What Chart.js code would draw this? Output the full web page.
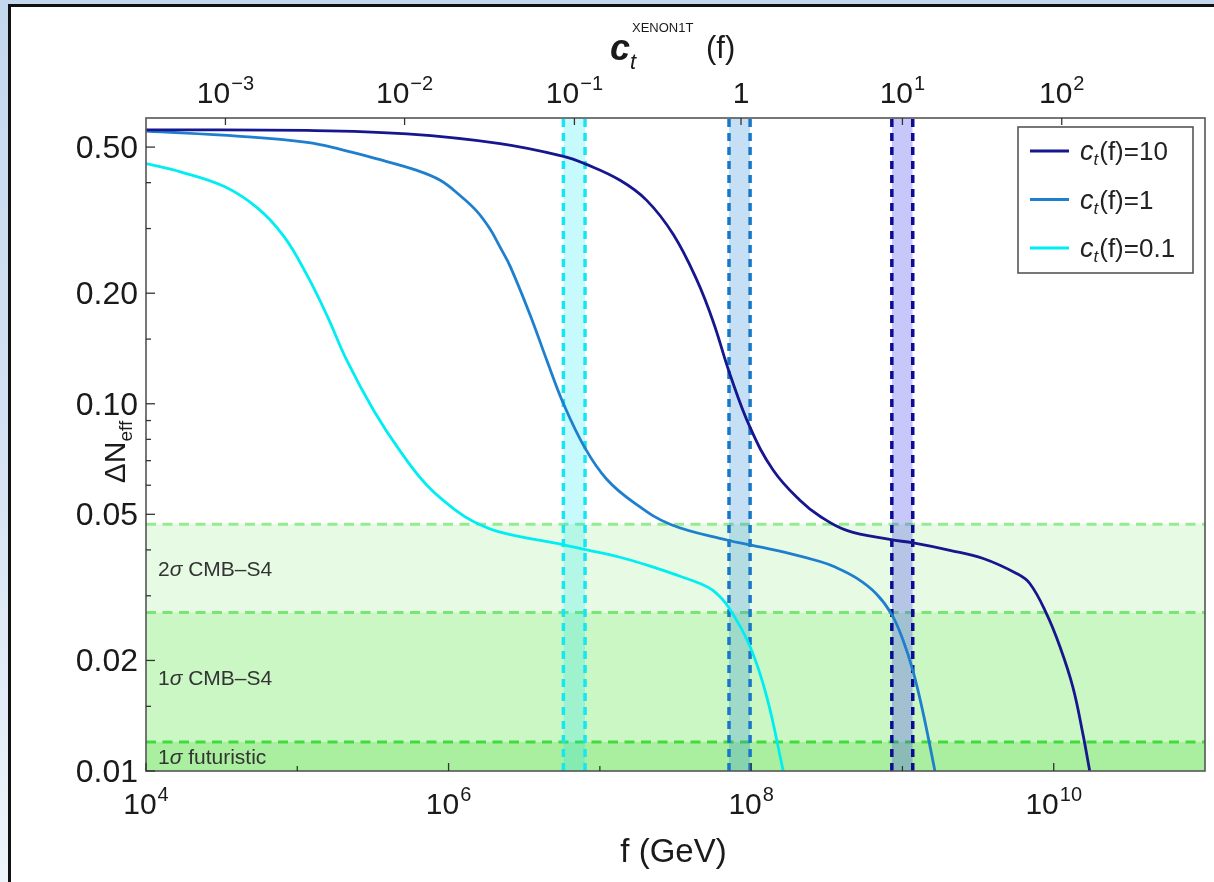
<!DOCTYPE html>
<html>
<head>
<meta charset="utf-8">
<script src="https://cdn.jsdelivr.net/npm/chart.js@4.4.0/dist/chart.umd.min.js"></script>
<style>
  html, body { margin: 0; padding: 0; width: 1214px; height: 882px; overflow: hidden; }
  body { background: linear-gradient(180deg, #c3d7ed 0%, #d6e4f3 55%, #eef4fa 100%); position: relative; }
  #panel { position: absolute; left: 8px; top: 4px; right: -4px; bottom: -4px; background: #fff;
           border-left: 3px solid #111; border-top: 3px solid #111; }
  #c { position: absolute; left: 0; top: 0; }
</style>
</head>
<body>
<div id="panel"></div>
<canvas id="c" width="1214" height="882"></canvas>
<script>
// ---- curves: f in GeV, Delta N_eff ----
const fNavy = [1e4, 1.16e5, 5.31e5, 2.19e6, 5.75e6, 8.0e6, 1.36e7, 2.04e7, 3.06e7, 4.38e7, 5.62e7, 7.26e7,
  9.84e7, 1.40e8, 2.10e8, 2.85e8, 4.28e8, 8.26e8, 1.18e9, 2.06e9, 3.42e9, 5.68e9, 6.95e9, 8.97e9,
  1.10e10, 1.34e10, 1.56e10, 1.73e10];
const nNavy = [0.557, 0.555, 0.543, 0.511, 0.472, 0.450, 0.406, 0.358, 0.289, 0.217, 0.167, 0.120,
  0.0862, 0.0659, 0.0546, 0.0494, 0.0452, 0.0427, 0.0418, 0.0399, 0.0379, 0.0345, 0.0324, 0.0268,
  0.0218, 0.0169, 0.0126, 0.0100];

const fBlue = [1e4, 4.21e4, 1.16e5, 1.93e5, 3.18e5, 6.18e5, 8.81e5, 1.19e6, 1.54e6, 1.88e6, 2.19e6,
  2.55e6, 3.47e6, 4.47e6, 5.75e6, 8.0e6, 1.11e7, 1.67e7, 2.91e7, 7.03e7, 9.84e7, 1.81e8, 2.85e8,
  3.49e8, 4.98e8, 6.76e8, 8.49e8, 1.01e9, 1.18e9, 1.37e9, 1.64e9];
const nBlue = [0.553, 0.535, 0.515, 0.493, 0.467, 0.432, 0.406, 0.369, 0.334, 0.299, 0.267,
  0.237, 0.174, 0.131, 0.100, 0.0756, 0.0623, 0.0539, 0.0470, 0.0425, 0.0413, 0.0391, 0.0372,
  0.0361, 0.0335, 0.0303, 0.0267, 0.0227, 0.0186, 0.0144, 0.0100];

const fCyan = [1e4, 1.69e4, 3.27e4, 5.42e4, 8.13e4, 1.16e5, 1.57e5, 2.13e5, 3.20e5, 4.80e5, 7.19e5,
  1.14e6, 1.46e6, 2.19e6, 5.75e6, 8.20e6, 1.36e7, 2.26e7, 3.39e7, 4.59e7, 5.62e7, 7.06e7, 9.84e7,
  1.27e8, 1.63e8];
const nCyan = [0.451, 0.428, 0.391, 0.342, 0.286, 0.224, 0.174, 0.131, 0.0959, 0.0742, 0.0600,
  0.0509, 0.0478, 0.0447, 0.0413, 0.0400, 0.0382, 0.0359, 0.0339, 0.0324, 0.0310, 0.0280, 0.0218,
  0.0159, 0.0100];

const seriesNames = ['10', '1', '0.1'];

// XENON1T bands in f (left edge, right edge), one per c_t(f) value
const bandLow  = [8.51e8, 7.14e7, 5.74e6];
const bandHigh = [1.17e9, 9.84e7, 7.98e6];

// CMB-S4 sensitivity levels
const cmbLevels = [0.047, 0.027, 0.012];
const cmbNames = ['2σ CMB–S4', '1σ CMB–S4', '1σ futuristic'];

// axis ranges and ticks
const xMin = 1e4, xMax = 1e11, yMin = 0.01, yMax = 0.6;
const xMajorExp = [4, 6, 8, 10];
const xMinorExp = [5, 7, 9];
const yMajor = [0.01, 0.02, 0.05, 0.1, 0.2, 0.5];
const yMajorText = ['0.01', '0.02', '0.05', '0.10', '0.20', '0.50'];
const yMinor = [0.015, 0.03, 0.04, 0.06, 0.07, 0.08, 0.09, 0.15, 0.3, 0.4];
// top axis: c_t^XENON1T(f) value at given f
const topTickF = [3.35e4, 5.12e5, 6.79e6, 8.57e7, 1.0e9, 1.13e10];
const topTickExp = [-3, -2, -1, 0, 1, 2];

const colNavy = '#16168e', colBlue = '#1f7fcf', colCyan = '#00eef2';
const lineCols = [colNavy, colBlue, colCyan];
const bandFill = ['rgba(70,70,235,0.30)', 'rgba(40,140,215,0.27)', 'rgba(0,230,240,0.22)'];
const bandEdge = ['#0b0b94', '#1877c8', '#14e6f4'];
const cmbFill = ['#e7fbe4', '#cbf7c5', '#aaee9f'];
const cmbEdge = ['#95ea92', '#78e575', '#3fdc3c'];

const pts = (xs, ys) => xs.map((v, i) => ({ x: v, y: ys[i] }));

const datasets = [];
// horizontal CMB-S4 regions
cmbLevels.forEach((lv, i) => {
  datasets.push({
    data: [{ x: xMin, y: lv }, { x: xMax, y: lv }],
    borderColor: cmbEdge[i], borderWidth: 3, borderDash: [10, 6.5],
    backgroundColor: cmbFill[i], fill: i < cmbLevels.length - 1 ? '+1' : 'start',
    order: 30 - i, pointRadius: 0
  });
});
// vertical bands, filled from the top edge down
bandLow.forEach((lo, i) => {
  datasets.push({
    data: [{ x: lo, y: yMax }, { x: bandHigh[i], y: yMax }],
    borderWidth: 0, borderColor: 'rgba(0,0,0,0)', backgroundColor: bandFill[i],
    fill: 'start', order: 20, pointRadius: 0
  });
});
// dashed band edges
bandLow.forEach((lo, i) => {
  [lo, bandHigh[i]].forEach(fv => {
    datasets.push({
      data: [{ x: fv, y: yMin }, { x: fv, y: yMax }],
      borderColor: bandEdge[i], borderWidth: 3.5, borderDash: [8, 6],
      fill: false, order: 10, pointRadius: 0
    });
  });
});
// the three curves
[[fNavy, nNavy], [fBlue, nBlue], [fCyan, nCyan]].forEach(([xs, ys], i) => {
  datasets.push({
    label: 'c_t(f)=' + seriesNames[i],
    data: pts(xs, ys),
    borderColor: lineCols[i], borderWidth: 2.8, fill: false,
    tension: 0.4, order: 1 + i, pointRadius: 0
  });
});

const FONT = '"Liberation Sans", Arial, Helvetica, sans-serif';

function putText(ctx, s, x, y, size, style, color, align) {
  ctx.font = (style || '') + ' ' + size + 'px ' + FONT;
  ctx.fillStyle = color || '#1a1a1a';
  ctx.textBaseline = 'alphabetic';
  const w = ctx.measureText(s).width;
  let x0 = x;
  if (align === 'center') x0 = x - w / 2;
  else if (align === 'right') x0 = x - w;
  ctx.textAlign = 'left';
  ctx.fillText(s, x0, y);
  return w;
}
function textWidth(ctx, s, size, style) {
  ctx.font = (style || '') + ' ' + size + 'px ' + FONT;
  return ctx.measureText(s).width;
}
// "10^n" label centred on cx
function powerLabel(ctx, exp, cx, baseY, size, supSize) {
  if (exp === 0) { putText(ctx, '1', cx, baseY, size, '', '#1a1a1a', 'center'); return; }
  const sup = exp < 0 ? '\u2212' + (-exp) : String(exp);
  const wb = textWidth(ctx, '10', size), ws = textWidth(ctx, sup, supSize);
  const x0 = cx - (wb + ws + 1) / 2;
  putText(ctx, '10', x0, baseY, size);
  putText(ctx, sup, x0 + wb + 1, baseY - size * 0.42, supSize);
}

const framePlugin = {
  id: 'frameAndLabels',
  afterDatasetsDraw(chart) {
    const { ctx, chartArea: a, scales: { y } } = chart;
    ctx.save();
    // region captions
    const capY = cmbLevels.map((lv, i) => {
      const top = y.getPixelForValue(lv);
      const bot = i < cmbLevels.length - 1 ? y.getPixelForValue(cmbLevels[i + 1]) : a.bottom;
      return (top + bot) / 2 + 8;
    });
    cmbNames.forEach((nm, i) => {
      const parts = nm.split('σ');
      let cx = a.left + 12;
      cx += putText(ctx, parts[0], cx, capY[i], 21, '', '#333');
      cx += putText(ctx, 'σ', cx, capY[i], 21, 'italic', '#333');
      putText(ctx, parts[1], cx, capY[i], 21, '', '#333');
    });
    ctx.restore();
  },
  afterDraw(chart) {
    const { ctx, chartArea: a, scales: { x, y } } = chart;
    ctx.save();
    // frame
    ctx.strokeStyle = '#555';
    ctx.lineWidth = 1.6;
    ctx.strokeRect(a.left, a.top, a.right - a.left, a.bottom - a.top);
    // ticks, pointing inward
    ctx.strokeStyle = '#333';
    ctx.lineWidth = 1.3;
    const seg = (x1, y1, x2, y2) => { ctx.beginPath(); ctx.moveTo(x1, y1); ctx.lineTo(x2, y2); ctx.stroke(); };
    yMajor.forEach(v => { const p = y.getPixelForValue(v); seg(a.left, p, a.left + 9, p); });
    yMinor.forEach(v => { const p = y.getPixelForValue(v); seg(a.left, p, a.left + 5, p); });
    xMajorExp.forEach(e => { const p = x.getPixelForValue(Math.pow(10, e)); seg(p, a.bottom, p, a.bottom - 8); });
    xMinorExp.forEach(e => { const p = x.getPixelForValue(Math.pow(10, e)); seg(p, a.bottom, p, a.bottom - 5); });
    topTickF.forEach(fv => { const p = x.getPixelForValue(fv); seg(p, a.top, p, a.top + 7); });

    // y tick labels
    yMajor.forEach((v, i) => {
      const p = y.getPixelForValue(v);
      putText(ctx, yMajorText[i], a.left - 8, p + 11, 32, '', '#1a1a1a', 'right');
    });
    // bottom tick labels
    xMajorExp.forEach(e => {
      const p = x.getPixelForValue(Math.pow(10, e));
      powerLabel(ctx, e, p, a.bottom + 43, 30, 20);
    });
    // top tick labels
    topTickF.forEach((fv, i) => {
      const p = x.getPixelForValue(fv);
      powerLabel(ctx, topTickExp[i], p, a.top - 15, 30, 20);
    });

    // axis titles
    putText(ctx, 'f (GeV)', (a.left + a.right) / 2 - 2, 862, 33, '', '#1a1a1a', 'center');
    ctx.save();
    ctx.translate(125, 452);
    ctx.rotate(-Math.PI / 2);
    const wDN = textWidth(ctx, 'ΔN', 30), wEff = textWidth(ctx, 'eff', 19);
    const sx = -(wDN + wEff) / 2;
    putText(ctx, 'ΔN', sx, 0, 30);
    putText(ctx, 'eff', sx + wDN, 7, 19);
    ctx.restore();

    // top title: c_t^XENON1T (f)
    const tb = 60;
    let tx = 610;
    tx += putText(ctx, 'c', tx, tb, 36, 'italic bold');
    putText(ctx, 't', tx, tb + 9, 22, 'italic');
    putText(ctx, 'XENON1T', tx + 2, tb - 28, 13);
    putText(ctx, '(f)', 706, tb - 2, 31);

    // legend
    const lx = 1018, ly = 127, lw = 175, lh = 146;
    ctx.fillStyle = '#fff';
    ctx.fillRect(lx, ly, lw, lh);
    ctx.strokeStyle = '#555';
    ctx.lineWidth = 1.6;
    ctx.strokeRect(lx, ly, lw, lh);
    const rows = [151, 199.5, 248];
    seriesNames.forEach((nm, i) => {
      ctx.strokeStyle = lineCols[i];
      ctx.lineWidth = 3;
      seg(lx + 12, rows[i], lx + 51, rows[i]);
      let cx = lx + 62;
      cx += putText(ctx, 'c', cx, rows[i] + 9, 27, 'italic', '#222');
      cx += putText(ctx, 't', cx, rows[i] + 14, 17, 'italic', '#222');
      putText(ctx, '(f)=' + nm, cx + 1, rows[i] + 9, 26, '', '#222');
    });
    ctx.restore();
  }
};

new Chart(document.getElementById('c').getContext('2d'), {
  type: 'line',
  data: { datasets },
  options: {
    responsive: false,
    animation: false,
    layout: { padding: { left: 146, top: 118, right: 9, bottom: 111 } },
    scales: {
      x: { type: 'logarithmic', min: xMin, max: xMax, display: false },
      y: { type: 'logarithmic', min: yMin, max: yMax, display: false }
    },
    plugins: { legend: { display: false }, tooltip: { enabled: false } },
    elements: { point: { radius: 0 } }
  },
  plugins: [framePlugin]
});
</script>
</body>
</html>
